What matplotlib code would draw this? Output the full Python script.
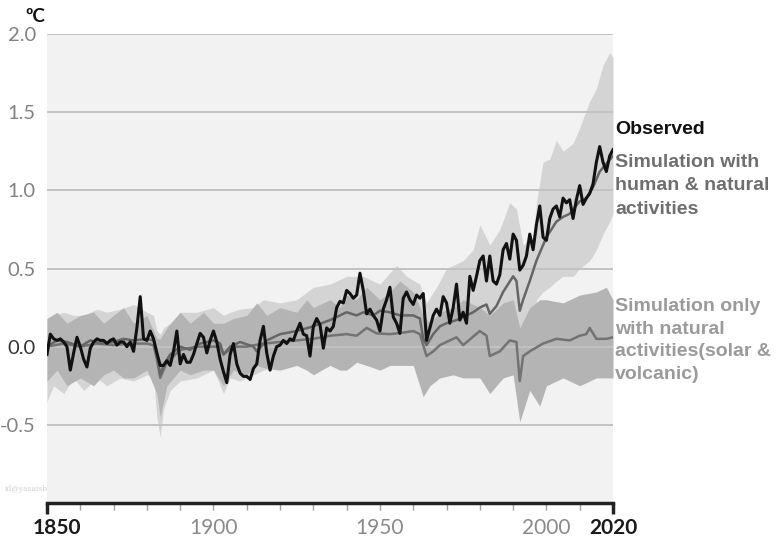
import numpy as np
import matplotlib
matplotlib.use("Agg")
import matplotlib.pyplot as plt

# observed annual anomaly, 1850-2020
years = np.arange(1850, 2021)
observed = [
    -0.05, 0.08, 0.05, 0.04, 0.05, 0.03, 0.0, -0.15, -0.04, 0.06,
    0.0, -0.08, -0.13, -0.01, 0.03, 0.05, 0.04, 0.04, 0.02, 0.04,
    0.05, 0.01, 0.03, 0.03, 0.0, 0.03, -0.03, 0.12, 0.32, 0.05,
    0.04, 0.10, 0.05, -0.04, -0.12, -0.12, -0.09, -0.12, -0.03, 0.10,
    -0.11, -0.05, -0.10, -0.10, -0.05, 0.02, 0.085, 0.06, -0.04, 0.04,
    0.10, 0.03, -0.08, -0.16, -0.23, -0.05, 0.02, -0.11, -0.17, -0.19,
    -0.19, -0.21, -0.14, -0.11, 0.04, 0.13, -0.04, -0.15, -0.06, 0.0,
    0.01, 0.04, 0.02, 0.05, 0.04, 0.10, 0.15, 0.08, 0.07, -0.06,
    0.13, 0.18, 0.14, -0.01, 0.12, 0.10, 0.13, 0.25, 0.29, 0.28,
    0.36, 0.34, 0.31, 0.33, 0.47, 0.36, 0.21, 0.24, 0.20, 0.17,
    0.10, 0.24, 0.30, 0.38, 0.19, 0.15, 0.085, 0.31, 0.35, 0.30,
    0.27, 0.33, 0.31, 0.34, 0.04, 0.12, 0.20, 0.24, 0.20, 0.32,
    0.28, 0.15, 0.25, 0.40, 0.17, 0.22, 0.15, 0.45, 0.36, 0.45,
    0.55, 0.58, 0.42, 0.58, 0.42, 0.40, 0.46, 0.62, 0.66, 0.56,
    0.72, 0.68, 0.49, 0.52, 0.58, 0.72, 0.62, 0.78, 0.90, 0.70,
    0.68, 0.82, 0.88, 0.90, 0.83, 0.95, 0.92, 0.94, 0.82, 0.94,
    1.03, 0.91, 0.95, 0.98, 1.04, 1.18, 1.28, 1.18, 1.12, 1.22,
    1.26,
]

# simulation with human & natural factors (central line)
human_years = [1850, 1853, 1856, 1860, 1863, 1866, 1870, 1873, 1876, 1880, 1882, 1883,
               1884, 1885, 1887, 1890, 1893, 1896, 1900, 1902, 1903, 1905, 1908, 1912,
               1913, 1916, 1920, 1925, 1930, 1935, 1940, 1943, 1945, 1948, 1950, 1953,
               1956, 1960, 1962, 1963, 1964, 1966, 1968, 1970, 1973, 1975, 1978, 1980,
               1982, 1983, 1985, 1987, 1990, 1991, 1992, 1993, 1995, 1997, 2000, 2003,
               2005, 2007, 2010, 2012, 2014, 2016, 2018, 2020]
human_sim = [0.0, 0.04, 0.03, 0.0, 0.04, 0.02, 0.03, 0.05, 0.04, 0.05, 0.04, -0.05,
             -0.18, -0.12, -0.05, 0.0, -0.02, 0.02, 0.04, 0.02, -0.05, 0.0, 0.03, 0.0,
             -0.03, 0.04, 0.08, 0.10, 0.13, 0.17, 0.22, 0.20, 0.22, 0.20, 0.23, 0.22,
             0.20, 0.20, 0.18, 0.05, 0.01, 0.08, 0.13, 0.15, 0.17, 0.19, 0.22, 0.25,
             0.27, 0.21, 0.26, 0.35, 0.45, 0.42, 0.23, 0.30, 0.42, 0.55, 0.70, 0.80,
             0.83, 0.85, 0.93, 0.95, 1.02, 1.12, 1.17, 1.22]

# simulation with natural factors only (central line)
natural_years = [1850, 1855, 1860, 1865, 1870, 1875, 1880, 1882, 1883, 1884, 1886, 1890,
                 1895, 1900, 1902, 1903, 1906, 1910, 1915, 1920, 1925, 1930, 1935, 1940,
                 1943, 1946, 1949, 1953, 1957, 1960, 1962, 1964, 1966, 1968, 1971, 1973,
                 1975, 1980, 1982, 1983, 1986, 1989, 1991, 1992, 1993, 1995, 1999, 2003,
                 2007, 2010, 2012, 2013, 2015, 2018, 2020]
natural_sim = [0.0, 0.02, 0.0, 0.02, 0.01, 0.02, 0.02, 0.01, -0.08, -0.2, -0.1, -0.02,
               0.0, 0.0, 0.0, -0.05, 0.0, 0.0, 0.02, 0.03, 0.04, 0.05, 0.07, 0.08,
               0.07, 0.12, 0.085, 0.08, 0.09, 0.10, 0.08, -0.06, -0.03, 0.01, 0.04, 0.06,
               0.01, 0.10, 0.07, -0.06, -0.03, 0.04, 0.03, -0.22, -0.06, -0.03, 0.02, 0.05,
               0.04, 0.07, 0.08, 0.12, 0.05, 0.05, 0.06]

# range of human & natural simulations
hband_years = [1850, 1852, 1855, 1858, 1861, 1865, 1868, 1872, 1876, 1880, 1882, 1883,
               1884, 1885, 1887, 1890, 1895, 1900, 1903, 1905, 1908, 1912, 1915, 1920,
               1925, 1930, 1935, 1940, 1945, 1950, 1955, 1958, 1962, 1964, 1967, 1970,
               1975, 1978, 1980, 1983, 1986, 1989, 1991, 1993, 1996, 1997, 1999, 2001,
               2003, 2005, 2008, 2010, 2013, 2015, 2017, 2019, 2020]
hband_hi = [0.18, 0.2, 0.22, 0.2, 0.2, 0.24, 0.22, 0.24, 0.27, 0.22, 0.2, 0.1,
            0.08, 0.12, 0.15, 0.22, 0.22, 0.25, 0.2, 0.22, 0.24, 0.25, 0.3, 0.28,
            0.3, 0.38, 0.4, 0.45, 0.45, 0.4, 0.52, 0.45, 0.4, 0.28, 0.38, 0.5,
            0.55, 0.62, 0.78, 0.65, 0.75, 0.92, 0.88, 0.65, 0.7, 0.92, 1.18, 1.2,
            1.32, 1.25, 1.3, 1.4, 1.57, 1.65, 1.8, 1.88, 1.85]
hband_lo = [-0.35, -0.25, -0.3, -0.2, -0.28, -0.2, -0.25, -0.2, -0.22, -0.18, -0.2, -0.45,
            -0.58, -0.4, -0.28, -0.22, -0.2, -0.15, -0.3, -0.2, -0.22, -0.18, -0.15, -0.12,
            -0.1, -0.05, -0.05, 0.0, 0.0, 0.0, 0.0, 0.0, -0.05, -0.25, -0.15, -0.05,
            0.0, 0.05, 0.08, 0.02, 0.1, 0.18, 0.15, 0.05, 0.15, 0.3, 0.35, 0.38,
            0.42, 0.45, 0.45, 0.5, 0.55, 0.62, 0.72, 0.8, 0.85]

# range of natural-only simulations
nband_years = [1850, 1853, 1856, 1860, 1864, 1867, 1870, 1873, 1876, 1880, 1883, 1884,
               1886, 1890, 1893, 1897, 1900, 1903, 1906, 1910, 1913, 1916, 1920, 1925,
               1928, 1930, 1935, 1938, 1940, 1943, 1946, 1950, 1953, 1956, 1960, 1963,
               1965, 1968, 1972, 1975, 1980, 1983, 1987, 1990, 1992, 1995, 1998, 2000,
               2005, 2010, 2015, 2018, 2020]
nband_hi = [0.18, 0.22, 0.15, 0.2, 0.22, 0.15, 0.2, 0.25, 0.15, 0.2, 0.05, 0.05,
            0.12, 0.22, 0.15, 0.22, 0.15, 0.15, 0.18, 0.2, 0.28, 0.2, 0.25, 0.22,
            0.3, 0.25, 0.3, 0.25, 0.33, 0.3, 0.38, 0.3, 0.35, 0.42, 0.35, 0.2,
            0.15, 0.22, 0.25, 0.3, 0.25, 0.2, 0.28, 0.3, 0.12, 0.25, 0.3, 0.3,
            0.28, 0.33, 0.35, 0.38, 0.3]
nband_lo = [-0.22, -0.15, -0.25, -0.2, -0.25, -0.18, -0.15, -0.2, -0.2, -0.15, -0.3, -0.45,
            -0.25, -0.15, -0.18, -0.15, -0.15, -0.25, -0.15, -0.18, -0.12, -0.14, -0.15, -0.12,
            -0.15, -0.18, -0.12, -0.15, -0.15, -0.1, -0.12, -0.15, -0.12, -0.12, -0.12, -0.32,
            -0.25, -0.2, -0.18, -0.2, -0.2, -0.3, -0.2, -0.18, -0.48, -0.28, -0.38, -0.25,
            -0.2, -0.25, -0.2, -0.2, -0.2]

y_ticks = [-0.5, 0.0, 0.5, 1.0, 1.5, 2.0]
y_labels = ["-0.5", "0.0", "0.5", "1.0", "1.5", "2.0"]
x_label_years = [1850, 1900, 1950, 2000, 2020]
x_labels = ["1850", "1900", "1950", "2000", "2020"]

W, H = 782, 538
fig = plt.figure(figsize=(W / 100, H / 100), dpi=100)
ax = fig.add_axes([47 / W, 1 - 503 / H, 566 / W, 469 / H])
ax.set_facecolor("#f2f2f2")
ax.set_xlim(1850, 2020)
ax.set_ylim(-1.0, 2.0)

ax.fill_between(hband_years, hband_lo, hband_hi, color="#d4d4d4", lw=0, zorder=1)
ax.fill_between(nband_years, nband_lo, nband_hi, color="#b4b4b4", lw=0, zorder=2)
for v in y_ticks:
    ax.axhline(v, color="#c2c2c2", lw=1.4, zorder=2.5)

ax.plot(natural_years, natural_sim, color="#737373", lw=1.8, zorder=3)
ax.plot(human_years, human_sim, color="#666666", lw=1.8, zorder=3.2)
ax.plot(years, observed, color="#111111", lw=2.2, zorder=4)

for s in ["top", "left", "right"]:
    ax.spines[s].set_visible(False)
ax.spines["bottom"].set_linewidth(2.5)
ax.spines["bottom"].set_color("#222222")

ax.set_xticks([1850, 2020])
ax.set_xticks(np.arange(1860, 2020, 10), minor=True)
ax.tick_params(axis="x", which="major", length=8, width=2.5, color="#222222", labelbottom=False)
ax.tick_params(axis="x", which="minor", length=5, width=1, color="#a0a0a0")

ax.set_yticks(y_ticks)
ax.set_yticklabels(y_labels)
ax.tick_params(axis="y", length=0, pad=8)
for lab in ax.get_yticklabels():
    lab.set_fontfamily("Lato")
    lab.set_fontsize(14.5)
    lab.set_color("#333333" if lab.get_text() == "0.0" else "#828282")

for yr, txt in zip(x_label_years, x_labels):
    bold = txt in ("1850", "2020")
    ax.text(yr + (3 if txt == "1850" else 0), -25 / 469, txt,
            transform=ax.get_xaxis_transform(), ha="center", va="center",
            fontfamily="Lato", fontsize=15,
            fontweight="bold" if bold else "normal",
            color="#1a1a1a" if bold else "#8a8a8a")

fig.text(35 / W, 1 - 17 / H, "ºC", ha="center", va="center",
         fontfamily="Lato", fontsize=13.5, fontweight="bold", color="#111111")
fig.text(5 / W, 1 - 489 / H, "id@yasaisb", ha="left", va="center",
         fontfamily="DejaVu Serif", fontsize=5.5, color="#cfcfcf")

fig.text(615 / W, 1 - 130 / H, "Observed", ha="left", va="center",
         fontfamily="Liberation Sans", fontsize=14, fontweight="bold", color="#111111")
fig.text(615 / W, 1 - 186 / H, "Simulation with\nhuman & natural\nactivities",
         ha="left", va="center", linespacing=1.48,
         fontfamily="Liberation Sans", fontsize=14, fontweight="bold", color="#6e6e6e")
fig.text(615 / W, 1 - 340.5 / H, "Simulation only\nwith natural\nactivities(solar &\nvolcanic)",
         ha="left", va="center", linespacing=1.44,
         fontfamily="Liberation Sans", fontsize=14, fontweight="bold", color="#9a9a9a")

fig.savefig("out.png", dpi=100, facecolor="white")
